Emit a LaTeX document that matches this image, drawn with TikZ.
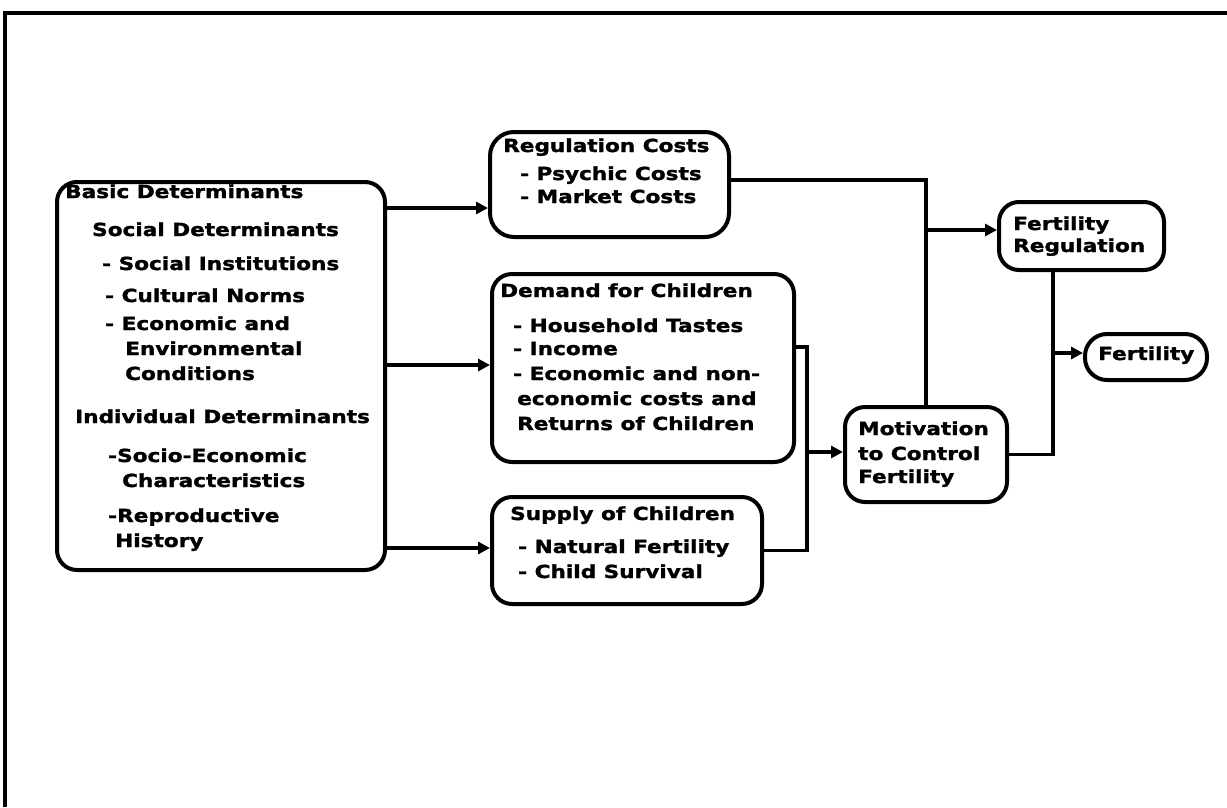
\documentclass[tikz,border=0pt]{standalone}
\usepackage{fontspec}
\usepackage{tikz}
\usetikzlibrary{arrows.meta}
\newfontfamily\boxfont{DejaVu Sans}[FakeStretch=1.2,BoldFeatures={FakeBold=1.6}]
\newcommand{\boxlines}[1]{\begin{tabular}[t]{@{}l@{}}#1\end{tabular}}

\begin{document}
\begin{tikzpicture}[x=1pt,y=1pt,yscale=-1,
  box/.style={draw,line width=4pt,rounded corners=20pt,anchor=north west,inner sep=0pt},
  boxtext/.style={anchor=base west,inner sep=0pt,font=\boxfont\bfseries\fontsize{18}{25}\selectfont},
  conn/.style={line width=3.6pt},
  arr/.style={conn,-{Triangle[length=12pt,width=12pt]}}]
\useasboundingbox (0,0) rectangle (1227,807);

%Frame lines
\draw [line width=4.5pt]   (5,807) -- (5,13) -- (1227,13) ;

%Boxes
\node (basic) [box,minimum width=328pt,minimum height=388pt] at (55,180) {};
\node (regcost) [box,minimum width=239pt,minimum height=105pt,rounded corners=24pt] at (488,130) {};
\node (demand) [box,minimum width=302pt,minimum height=188pt] at (490,272) {};
\node (supply) [box,minimum width=270pt,minimum height=107pt] at (490,495) {};
\node (motiv) [box,minimum width=162pt,minimum height=95pt] at (843,405) {};
\node (fertreg) [box,minimum width=165pt,minimum height=68pt] at (997,200) {};
\node (fert) [box,minimum width=122pt,minimum height=46pt,rounded corners=22pt] at (1083,332) {};

% Text Node
\node (basictxt) [boxtext] at (65,198) {\boxlines{Basic Determinants\\[13pt]
  \hspace*{27pt}Social Determinants\\[9pt]
  \hspace*{37pt}- Social Institutions\\[7pt]
  \hspace*{40pt}- Cultural Norms\\[3pt]
  \hspace*{40pt}- Economic and\\
  \hspace*{60pt}Environmental\\
  \hspace*{60pt}Conditions\\[18pt]
  \hspace*{10pt}Individual Determinants\\[14pt]
  \hspace*{43pt}-Socio-Economic\\
  \hspace*{57pt}Characteristics\\[10pt]
  \hspace*{43pt}-Reproductive\\
  \hspace*{50pt}History}};
% Text Node
\node (regcosttxt) [boxtext] at (503,152) {\boxlines{Regulation Costs\\[3pt]
  \hspace*{17pt}- Psychic Costs\\[-2pt]
  \hspace*{17pt}- Market Costs}};
% Text Node
\node (demandtxt) [boxtext] at (500,297) {\boxlines{Demand for Children\\[10pt]
  \hspace*{13pt}- Household Tastes\\[-2pt]
  \hspace*{13pt}- Income\\
  \hspace*{13pt}- Economic and non-\\
  \hspace*{17pt}economic costs and\\
  \hspace*{17pt}Returns of Children}};
% Text Node
\node (supplytxt) [boxtext] at (510,520) {\boxlines{Supply of Children\\[8pt]
  \hspace*{8pt}- Natural Fertility\\
  \hspace*{8pt}- Child Survival}};
% Text Node
\node (motivtxt) [boxtext] at (858,435) {\boxlines{Motivation\\
  to Control\\[-2pt]
  Fertility}};
% Text Node
\node (fertregtxt) [boxtext] at (1013,230) {\boxlines{Fertility\\[-3pt]
  Regulation}};
% Text Node
\node (ferttxt) [boxtext] at (1098,360) {Fertility};

%Connectors
\coordinate (jn) at (807,452);
\coordinate (jf) at (1053,353);
\draw [arr]   (basic.east |- 0,208) -- (regcost.west |- 0,208) ;
\draw [arr]   (basic.east |- 0,365) -- (demand.west |- 0,365) ;
\draw [arr]   (basic.east |- 0,548) -- (supply.west |- 0,548) ;
\draw [conn]   (regcost.east |- 0,180) -| (motiv.north) ;
\draw [arr]   (motiv.north |- 0,230) -- (fertreg.west |- 0,230) ;
\draw [conn]   (demand.east |- 0,347) -| (jn) ;
\draw [conn]   (supply.east) -| (jn) ;
\draw [arr]   (jn) -- (motiv.west |- jn) ;
\draw [conn]   (motiv.east) -| (fertreg.south -| jf) ;
\draw [arr]   (jf) -- (fert.west |- jf) ;

\end{tikzpicture}
\end{document}
